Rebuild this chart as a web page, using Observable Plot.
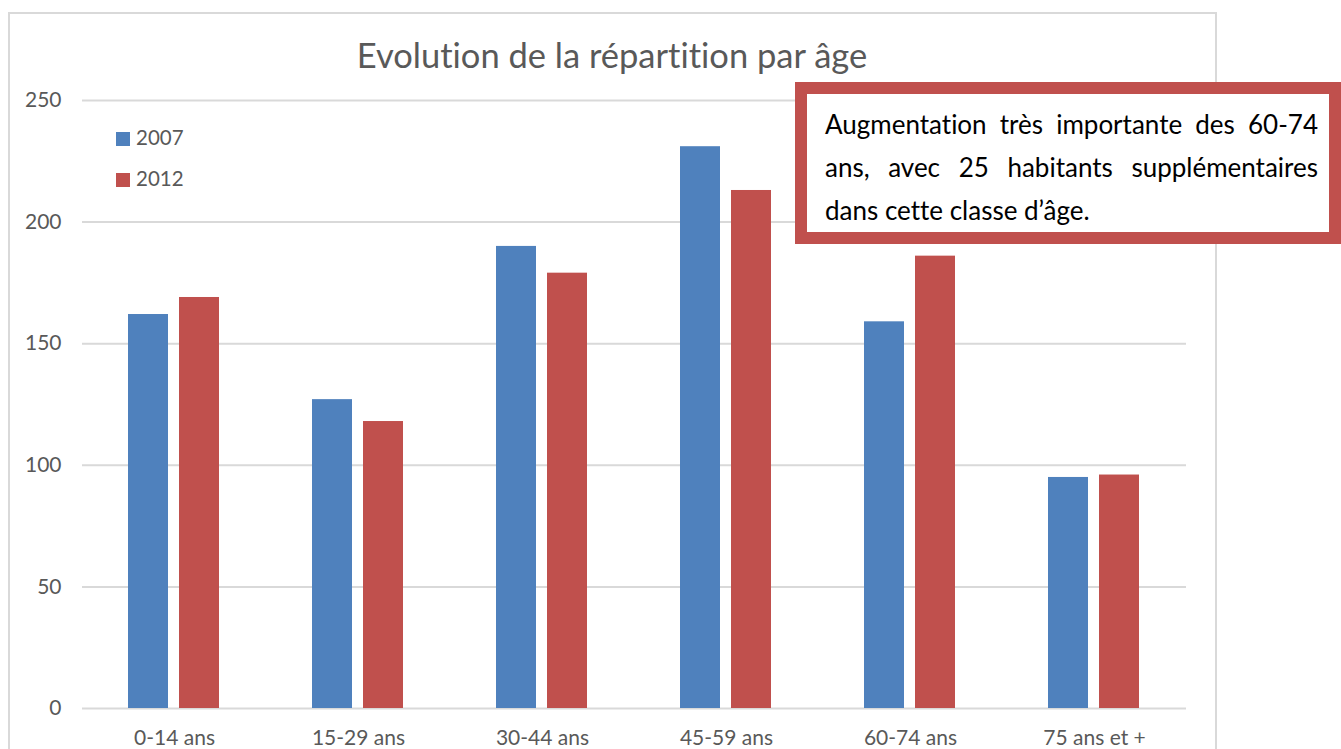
<!DOCTYPE html>
<html>
<head>
<meta charset="utf-8">
<script src="https://cdn.jsdelivr.net/npm/d3@7"></script>
<script src="https://cdn.jsdelivr.net/npm/@observablehq/plot@0.6"></script>
<style>
  html, body { margin: 0; padding: 0; background: #fff; overflow: hidden; }
  * { font-variant-ligatures: none; font-feature-settings: "liga" 0, "clig" 0; }
  #wrap { position: relative; width: 1341px; height: 749px; font-family: Lato, "Open Sans", sans-serif; }
  #frame { position: absolute; left: 8px; top: 12px; width: 1205px; height: 760px; border: 2px solid #d9d9d9; }
  #chart { position: absolute; left: 0; top: 0; }
  #title { position: absolute; left: 0; width: 1224px; top: 38px; text-align: center; font-size: 34.5px; line-height: 34px; color: #595959; }
  .leg { position: absolute; left: 116px; font-size: 20.5px; color: #595959; line-height: 20px; }
  .leg span.sw { display: inline-block; width: 14px; height: 14px; margin-right: 6px; vertical-align: -1px; }
  #note { position: absolute; left: 795px; top: 82px; width: 546px; height: 162px; box-sizing: border-box; border: 12px solid #c0504d; background: #fff; padding: 9px 11px 0 18px; font-size: 26px; line-height: 43px; color: #000; }
  #note div.j { text-align: justify; text-align-last: justify; }
  #note div { white-space: nowrap; }
</style>
</head>
<body>
<div id="wrap">
  <div id="frame"></div>
  <div id="chart"></div>
  <div id="title"></div>
  <div id="legend"></div>
  <div id="note"></div>
</div>
<script>
const titleText = "Evolution de la répartition par âge";
const ages = ["0-14 ans", "15-29 ans", "30-44 ans", "45-59 ans", "60-74 ans", "75 ans et +"];
const years = ["2007", "2012"];
const v2007 = [162, 127, 190, 231, 159, 95];
const v2012 = [169, 118, 179, 213, 186, 96];
const yTicks = [0, 50, 100, 150, 200, 250];
const colors = ["#4f81bd", "#c0504d"];
const noteLines = [
  "Augmentation très importante des 60-74",
  "ans, avec 25 habitants supplémentaires",
  "dans cette classe d’âge."
];

const data = ages.flatMap((a, i) => [
  {age: a, year: years[0], value: v2007[i]},
  {age: a, year: years[1], value: v2012[i]}
]);

const chart = Plot.plot({
  width: 1341,
  height: 749,
  marginLeft: 80,
  marginRight: 154,
  marginTop: 100,
  marginBottom: 41,
  style: {fontFamily: "Lato, 'Open Sans', sans-serif", fontSize: "21px", color: "#595959", background: "transparent", overflow: "visible"},
  fx: {domain: ages, padding: 0, label: null, axis: "bottom", tickSize: 0, tickPadding: 22},
  x: {domain: years, axis: null, paddingInner: 11 / 52, paddingOuter: 0.88},
  y: {domain: [0, 250], ticks: yTicks, tickSize: 0, tickPadding: 21, label: null},
  color: {domain: years, range: colors},
  marks: [
    Plot.ruleY(yTicks, {stroke: "#d9d9d9", strokeWidth: 2}),
    Plot.barY(data, {fx: "age", x: "year", y: "value", fill: "year"})
  ]
});
document.getElementById("chart").appendChild(chart);

document.getElementById("title").textContent = titleText;

const legend = document.getElementById("legend");
years.forEach((y, i) => {
  const d = document.createElement("div");
  d.className = "leg";
  d.style.top = (127 + i * 41) + "px";
  d.innerHTML = `<span class="sw" style="background:${colors[i]}"></span>${y}`;
  legend.appendChild(d);
});

const note = document.getElementById("note");
noteLines.forEach((t, i) => {
  const d = document.createElement("div");
  if (i < noteLines.length - 1) d.className = "j";
  d.textContent = t;
  note.appendChild(d);
});
</script>
</body>
</html>
